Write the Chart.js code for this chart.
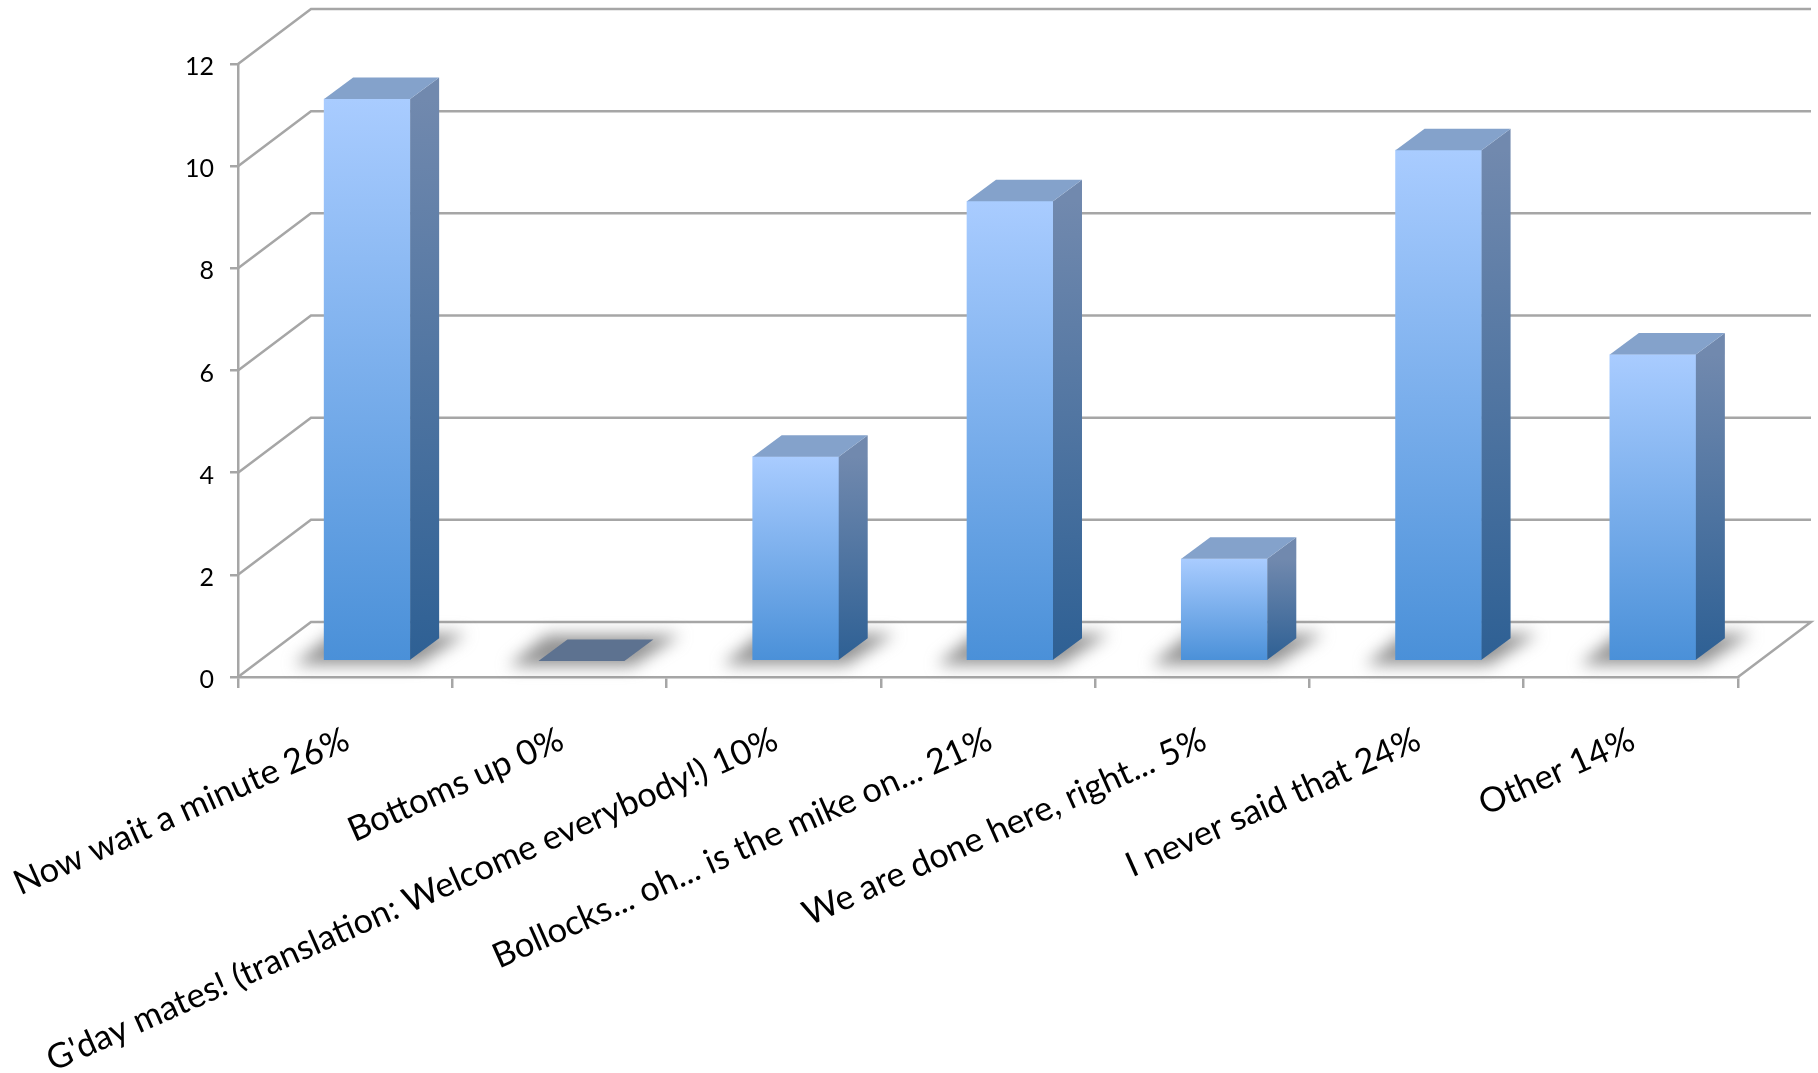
<!DOCTYPE html>
<html>
<head>
<meta charset="utf-8">
<title>Poll results</title>
<script src="https://cdn.jsdelivr.net/npm/chart.js@4"></script>
<style>
  html, body { margin: 0; padding: 0; background: #fff; }
  #wrap { width: 1818px; height: 1073px; }
</style>
</head>
<body>
<div id="wrap"><canvas id="pollChart"></canvas></div>
<script>
const categories = [
    'Now wait a minute 26%',
    'Bottoms up 0%',
    "G'day mates! (translation: Welcome everybody!) 10%",
    'Bollocks... oh... is the mike on... 21%',
    'We are done here, right... 5%',
    'I never said that 24%',
    'Other 14%'
];
const responses = [11, 0, 4, 9, 2, 10, 6];
const yTicks = [0, 2, 4, 6, 8, 10, 12];

const axisGrey = '#a6a6a6';
// 3D look: how far the back wall sits from the front plane, and the bar offset/depth
const wallDx = 73, wallDy = 55;
const barShiftX = 22, barShiftY = -16;
const depthX = 29, depthY = 21.5;

// Back walls and floor, built from the y scale ticks
const wallPlugin = {
    id: 'walls',
    beforeDatasetsDraw(chart) {
        const { ctx, scales: { x, y } } = chart;
        ctx.save();
        ctx.strokeStyle = axisGrey;
        ctx.lineWidth = 2.5;
        yTicks.forEach(function(t) {
            const py = y.getPixelForValue(t);
            ctx.beginPath();
            ctx.moveTo(x.left, py);
            ctx.lineTo(x.left + wallDx, py - wallDy);
            ctx.lineTo(x.right + wallDx, py - wallDy);
            if (t === 0) ctx.lineTo(x.right, py);
            ctx.stroke();
        });
        ctx.restore();

        // floor shadows
        const bars = chart.getDatasetMeta(0).data;
        ctx.save();
        ctx.filter = 'blur(8px)';
        ctx.fillStyle = 'rgba(120, 120, 120, 0.8)';
        bars.forEach(function(bar) {
            const l = bar.x - bar.width / 2 + barShiftX;
            const r = bar.x + bar.width / 2 + barShiftX;
            const b = bar.base + barShiftY;
            ctx.beginPath();
            ctx.moveTo(l - 30, b + 5);
            ctx.lineTo(r + 8, b + 5);
            ctx.lineTo(r + 56, b - 26);
            ctx.lineTo(l + 8, b - 26);
            ctx.closePath();
            ctx.fill();
        });
        ctx.restore();

        // bars are drawn by the library, just moved back from the front plane
        ctx.save();
        ctx.translate(barShiftX, barShiftY);
    },
    afterDatasetsDraw(chart) {
        const { ctx } = chart;
        chart.getDatasetMeta(0).data.forEach(function(bar) {
            const l = bar.x - bar.width / 2;
            const r = bar.x + bar.width / 2;
            const top = bar.y;
            const base = bar.base;

            if (base - top > 0) {
                const side = ctx.createLinearGradient(0, top, 0, base);
                side.addColorStop(0, '#7189ae');
                side.addColorStop(1, '#2e6094');
                ctx.fillStyle = side;
                ctx.beginPath();
                ctx.moveTo(r, top);
                ctx.lineTo(r + depthX, top - depthY);
                ctx.lineTo(r + depthX, base - depthY);
                ctx.lineTo(r, base);
                ctx.closePath();
                ctx.fill();
            }

            ctx.fillStyle = base - top > 0 ? '#84a2cb' : '#5d7290';
            ctx.beginPath();
            ctx.moveTo(l, top);
            ctx.lineTo(l + depthX, top - depthY);
            ctx.lineTo(r + depthX, top - depthY);
            ctx.lineTo(r, top);
            ctx.closePath();
            ctx.fill();
        });
        ctx.restore();
    }
};

document.addEventListener('DOMContentLoaded', function() {
    const chartCtx = document.getElementById('pollChart');
    new Chart(chartCtx, {
        type: 'bar',
        data: {
            labels: categories,
            datasets: [{
                data: responses,
                barThickness: 86,
                borderWidth: 0,
                clip: false,
                backgroundColor: function(context) {
                    const { chart, parsed } = context;
                    if (!parsed || !chart.scales.y) return '#4a90d8';
                    const y = chart.scales.y;
                    const y0 = y.getPixelForValue(parsed.y);
                    const y1 = y.getPixelForValue(0);
                    // scales have no size yet on the first pass
                    if (!Number.isFinite(y0) || !Number.isFinite(y1)) return '#4a90d8';
                    const grad = chart.ctx.createLinearGradient(0, y0, 0, y1);
                    grad.addColorStop(0, '#a9ccff');
                    grad.addColorStop(1, '#4a90d8');
                    return grad;
                }
            }]
        },
        plugins: [wallPlugin],
        options: {
            responsive: true,
            maintainAspectRatio: false,
            animation: false,
            layout: { padding: { top: 64, right: 80, left: 0, bottom: 0 } },
            plugins: {
                legend: { display: false },
                tooltip: { enabled: false }
            },
            scales: {
                x: {
                    // long rotated labels would otherwise push the plot area right
                    afterFit: function(scale) {
                        scale.height = 396;
                        scale.paddingLeft = 0;
                        scale.paddingRight = 0;
                    },
                    border: { color: axisGrey, width: 2.5 },
                    grid: { color: axisGrey, lineWidth: 2.5, drawOnChartArea: false, tickLength: 11 },
                    ticks: {
                        autoSkip: false,
                        minRotation: 24,
                        maxRotation: 24,
                        padding: 31,
                        labelOffset: 2,
                        color: '#000',
                        font: { family: 'Lato', size: 34.5 }
                    }
                },
                y: {
                    min: 0,
                    max: 12,
                    afterFit: function(scale) { scale.width = 238; },
                    border: { color: axisGrey, width: 2.5 },
                    grid: { color: axisGrey, lineWidth: 2.5, drawOnChartArea: false, tickLength: 8 },
                    ticks: {
                        stepSize: 2,
                        padding: 16,
                        labelOffset: 3,
                        color: '#000',
                        font: { family: 'Lato', size: 25 }
                    }
                }
            }
        }
    });
});
</script>
</body>
</html>
